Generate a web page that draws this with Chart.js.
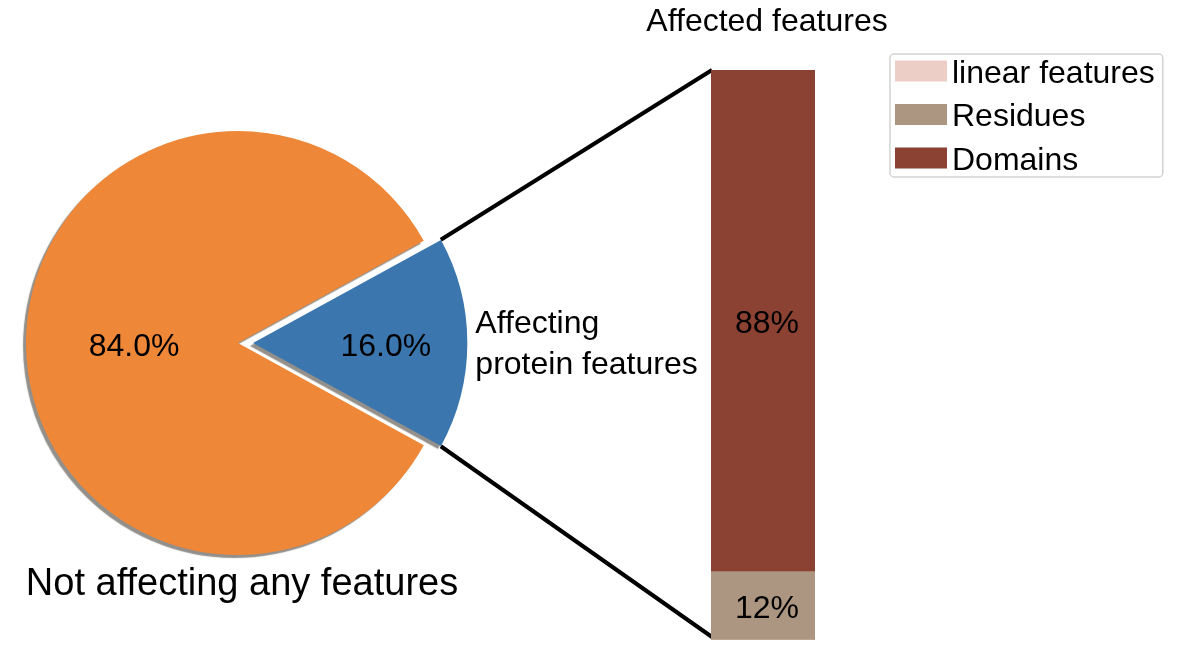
<!DOCTYPE html>
<html>
<head>
<meta charset="utf-8">
<title>Affected features</title>
<script src="https://cdn.jsdelivr.net/npm/chart.js@4.4.1/dist/chart.umd.min.js"></script>
<style>
  body { margin: 0; background: #fff; }
  #wrap { position: relative; width: 1185px; height: 645px; }
  #wrap canvas { position: absolute; left: 0; top: 0; }
</style>
</head>
<body>
<div id="wrap">
  <canvas id="pie" width="1185" height="645"></canvas>
  <canvas id="bar" width="1185" height="645"></canvas>
</div>
<script>
// pie: share of variants
const pieLabels = ['Not affecting any features', 'Affecting protein features'];
const pieValues = [84, 16];
const pieColors = ['#ee8838', '#3b77ae'];

// stacked bar: breakdown of the affected ones (bottom to top)
const featureLabels = ['linear features', 'Residues', 'Domains'];
const featureValues = [0, 12, 88];
const featureColors = ['#edcec7', '#ac9681', '#8b4232'];
const barTitle = 'Affected features';

const FONT = "'Liberation Sans', Arial, Helvetica, sans-serif";
const EXPLODE = 15;            // px the small wedge is pulled out
const pctDistance = [0.49, 0.62];

// gray drop shadow under the wedges
const pieShadow = {
  id: 'pieShadow',
  beforeDatasetsDraw(chart) {
    const ctx = chart.ctx;
    ctx.save();
    ctx.shadowColor = 'rgba(75, 68, 60, 0.6)';
    ctx.shadowOffsetX = -3;
    ctx.shadowOffsetY = 3;
    ctx.shadowBlur = 1;
  },
  afterDatasetsDraw(chart) {
    chart.ctx.restore();
  }
};

// arc geometry including the offset translation chart.js applies
function wedgeGeom(chart, i) {
  const arc = chart.getDatasetMeta(0).data[i];
  const off = (chart.data.datasets[0].offset[i] || 0) / 4;
  const mid = (arc.startAngle + arc.endAngle) / 2;
  const circ = arc.endAngle - arc.startAngle;
  const fix = 1 - Math.sin(Math.min(Math.PI, circ));
  return {
    arc, mid,
    cx: arc.x + Math.cos(mid) * off,
    cy: arc.y + Math.sin(mid) * off,
    r: arc.outerRadius + off * fix
  };
}

const pieText = {
  id: 'pieText',
  afterDraw(chart) {
    const ctx = chart.ctx;
    const total = pieValues.reduce((a, b) => a + b, 0);
    ctx.save();
    ctx.fillStyle = '#000';
    ctx.textBaseline = 'middle';
    ctx.textAlign = 'center';
    ctx.font = '32px ' + FONT;
    pieValues.forEach((v, i) => {
      const g = wedgeGeom(chart, i);
      const d = g.r * pctDistance[i];
      ctx.fillText((v / total * 100).toFixed(1) + '%',
        g.cx + Math.cos(g.mid) * d, g.cy + Math.sin(g.mid) * d + 4);
    });

    // category names
    const big = wedgeGeom(chart, 0);
    ctx.font = '38px ' + FONT;
    ctx.fillText(pieLabels[0], big.arc.x + 4, big.arc.y + big.r + 30);

    const small = wedgeGeom(chart, 1);
    const words = pieLabels[1].split(' ');
    ctx.font = '32px ' + FONT;
    ctx.textAlign = 'left';
    const lx = small.cx + small.r + 8;
    ctx.fillText(words[0], lx, small.cy - 19);
    ctx.fillText(words.slice(1).join(' '), lx, small.cy + 22);
    ctx.restore();
  }
};

const pieChart = new Chart(document.getElementById('pie'), {
  type: 'pie',
  data: {
    labels: pieLabels,
    datasets: [{
      data: pieValues,
      backgroundColor: pieColors,
      borderWidth: 0,
      offset: pieValues.map((v, i) => (i === 1 ? EXPLODE * 4 : 0))
    }]
  },
  options: {
    responsive: false,
    animation: false,
    events: [],
    radius: 212,
    rotation: 118.8,
    layout: { padding: { left: 0, right: 709, top: 41, bottom: 0 } },
    plugins: { legend: { display: false }, tooltip: { enabled: false } }
  },
  plugins: [pieShadow, pieText]
});

// lines from the pulled-out wedge to the bar
const connectors = {
  id: 'connectors',
  beforeDatasetsDraw(chart) {
    const g = wedgeGeom(pieChart, 1);
    const a = g.arc;
    const bars = chart.data.datasets.map((d, i) => chart.getDatasetMeta(i).data[0]);
    const left = bars[0].x - bars[0].width / 2;
    const top = Math.min(...bars.map(b => b.y));
    const bottom = Math.max(...bars.map(b => b.base));
    const ctx = chart.ctx;
    ctx.save();
    ctx.strokeStyle = '#000';
    ctx.lineWidth = 4;
    ctx.beginPath();
    ctx.moveTo(g.cx + Math.cos(a.startAngle) * g.r, g.cy + Math.sin(a.startAngle) * g.r);
    ctx.lineTo(left + 1, top);
    ctx.moveTo(g.cx + Math.cos(a.endAngle) * g.r, g.cy + Math.sin(a.endAngle) * g.r);
    ctx.lineTo(left + 1, bottom - 3);
    ctx.stroke();
    ctx.restore();
  }
};

const barText = {
  id: 'barText',
  afterDatasetsDraw(chart) {
    const ctx = chart.ctx;
    ctx.save();
    ctx.fillStyle = '#000';
    ctx.font = '32px ' + FONT;
    ctx.textAlign = 'center';
    ctx.textBaseline = 'middle';
    chart.data.datasets.forEach((ds, i) => {
      const v = ds.data[0];
      if (!v) return;
      const b = chart.getDatasetMeta(i).data[0];
      ctx.fillText(v + '%', b.x + 4, (b.y + b.base) / 2 + 3);
    });

    // title centred over the bar
    const area = chart.chartArea;
    ctx.fillText(barTitle, (area.left + area.right) / 2 + 4, 22);
    ctx.restore();
  }
};

// framed legend in dataset order
const legendBox = {
  id: 'legendBox',
  afterDraw(chart) {
    const ctx = chart.ctx;
    const items = chart.data.datasets.map(ds => ({ text: ds.label, color: ds.backgroundColor }));
    ctx.save();
    ctx.font = '32px ' + FONT;
    const textW = Math.max(...items.map(it => ctx.measureText(it.text).width));
    const x = 890, y = 54, rowH = 43.5, sw = 52, swH = 21;
    const w = 5 + sw + 5 + textW + 8;
    const h = 17 + rowH * (items.length - 1) + 19;
    ctx.strokeStyle = '#d2d2d2';
    ctx.lineWidth = 1.5;
    ctx.beginPath();
    ctx.roundRect(x, y, w, h, 4);
    ctx.stroke();
    ctx.textBaseline = 'middle';
    ctx.textAlign = 'left';
    items.forEach((it, i) => {
      const cy = y + 17 + i * rowH;
      ctx.fillStyle = it.color;
      ctx.fillRect(x + 5, cy - swH / 2, sw, swH);
      ctx.fillStyle = '#000';
      ctx.fillText(it.text, x + 5 + sw + 5, cy + 3);
    });
    ctx.restore();
  }
};

const barChart = new Chart(document.getElementById('bar'), {
  type: 'bar',
  data: {
    labels: [barTitle],
    datasets: featureLabels.map((label, i) => ({
      label: label,
      data: [featureValues[i]],
      backgroundColor: featureColors[i],
      borderWidth: 0,
      barPercentage: 1,
      categoryPercentage: 1
    }))
  },
  options: {
    responsive: false,
    animation: false,
    events: [],
    layout: { padding: { left: 711, right: 370, top: 70, bottom: 5 } },
    scales: {
      x: { stacked: true, display: false },
      y: { stacked: true, display: false, min: 0, max: 100 }
    },
    plugins: {
      legend: { display: false },
      tooltip: { enabled: false }
    }
  },
  plugins: [connectors, barText, legendBox]
});
</script>
</body>
</html>
